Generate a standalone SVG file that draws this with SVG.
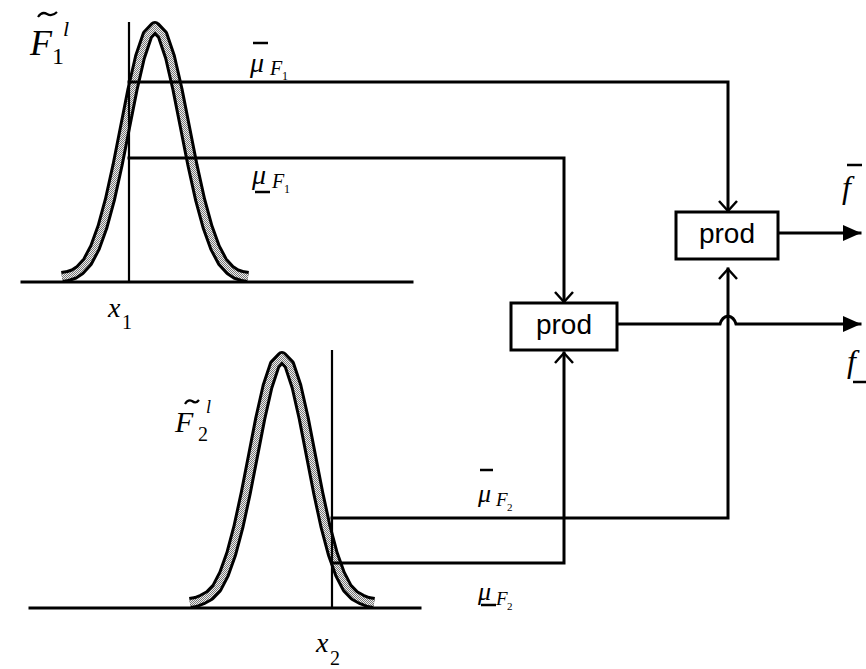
<svg xmlns="http://www.w3.org/2000/svg" width="866" height="669" viewBox="0 0 866 669">
<style>
.ln{fill:none;stroke:#000;stroke-width:3;stroke-linecap:square}
.thin{fill:none;stroke:#000;stroke-width:2.2}
.outer{fill:none;stroke:#000;stroke-width:12;stroke-linejoin:round;stroke-linecap:butt}
.inner{fill:none;stroke:url(#dots);stroke-width:6;stroke-linejoin:round;stroke-linecap:butt}
.box{fill:#fff;stroke:#000;stroke-width:3}
.prod{font-family:"Liberation Sans",Arial,sans-serif;font-size:28px;text-anchor:middle}
.m{font-family:"Liberation Serif","Times New Roman",serif;font-style:italic}
.r{font-family:"Liberation Serif","Times New Roman",serif}
.chev{fill:none;stroke:#000;stroke-width:2.5}
.bar{stroke:#000;stroke-width:2.5}
.tl{fill:none;stroke:#000;stroke-width:2.2}
</style>
<defs>
<pattern id="dots" width="2" height="2" patternUnits="userSpaceOnUse">
<rect width="2" height="2" fill="#eee"/>
<rect width="1" height="1" fill="#777"/>
<rect x="1" y="1" width="1" height="1" fill="#777"/>
</pattern>
<marker id="tri" markerWidth="18" markerHeight="16" refX="17" refY="8" orient="auto" markerUnits="userSpaceOnUse">
<path d="M0,0 L18,8 L0,16 Z" fill="#000"/>
</marker>
</defs>

<g id="curve1">
<polyline class="outer" points="62,277 68,276 74,274 80,270 87.5,261.7 95,247.5 102.5,226.8 110,199.2 117.5,165.3 125,127.3 132.5,89.5 140,57 147.5,34.9 155,27 162.5,34.9 170,57 177.5,89.5 185,127.3 192.5,165.3 200,199.2 207.5,226.8 215,247.5 222.5,261.7 230,270 236,274 242,276 248,277"/>
<polyline class="inner" points="62,277 68,276 74,274 80,270 87.5,261.7 95,247.5 102.5,226.8 110,199.2 117.5,165.3 125,127.3 132.5,89.5 140,57 147.5,34.9 155,27 162.5,34.9 170,57 177.5,89.5 185,127.3 192.5,165.3 200,199.2 207.5,226.8 215,247.5 222.5,261.7 230,270 236,274 242,276 248,277"/>
<line class="ln" x1="22" y1="282" x2="412" y2="282"/>
<line class="thin" x1="129" y1="22" x2="129" y2="282"/>
</g>

<g id="curve2">
<polyline class="outer" points="190,603 196,602 202.25,599.5 209.5,595.5 216.75,588 224,574 231.25,553.7 238.5,526.5 245.75,493.1 253,455.8 260.25,418.5 267.5,386.5 274.75,364.7 282,357 289.25,364.7 296.5,386.5 303.75,418.5 311,455.8 318.25,493.1 325.5,526.5 332.75,553.7 340,574 347.25,588 354.5,595.5 361.75,599.5 368,602 374,603"/>
<polyline class="inner" points="190,603 196,602 202.25,599.5 209.5,595.5 216.75,588 224,574 231.25,553.7 238.5,526.5 245.75,493.1 253,455.8 260.25,418.5 267.5,386.5 274.75,364.7 282,357 289.25,364.7 296.5,386.5 303.75,418.5 311,455.8 318.25,493.1 325.5,526.5 332.75,553.7 340,574 347.25,588 354.5,595.5 361.75,599.5 368,602 374,603"/>
<line class="ln" x1="30" y1="608" x2="420" y2="608"/>
<line class="thin" x1="332" y1="350" x2="332" y2="608"/>
</g>

<g id="connectors">
<polyline class="ln" points="129,82 728,82 728,211"/>
<polyline class="chev" points="719,201 728,211 737,201"/>
<polyline class="ln" points="129,158 564,158 564,302"/>
<polyline class="chev" points="555,292 564,302 573,292"/>
<polyline class="ln" points="332,518 728,518 728,269"/>
<polyline class="chev" points="719,279 728,269 737,279"/>
<polyline class="ln" points="332,563 564,563 564,353"/>
<polyline class="chev" points="555,363 564,353 573,363"/>
<path class="ln" d="M778,233 L860,233" marker-end="url(#tri)"/>
<path class="ln" d="M617,324 L720,324 Q722,317 728,316 Q734,317 736,324 L860,324" marker-end="url(#tri)"/>
</g>

<g id="prod-top">
<rect class="box" x="676" y="212" width="102" height="47"/>
<text class="prod" x="727" y="243">prod</text>
</g>
<g id="prod-bottom">
<rect class="box" x="511" y="303" width="106" height="47"/>
<text class="prod" x="564" y="334">prod</text>
</g>

<g id="labels">
<path class="tl" d="M38,17 Q42,11 47,14 Q52,17 57,12"/>
<text class="m" x="30" y="55" font-size="36">F</text>
<text class="r" x="52" y="64" font-size="24">1</text>
<text class="m" x="63" y="36" font-size="22">l</text>

<line class="bar" x1="253" y1="43" x2="268" y2="43"/>
<text class="m" x="250" y="72" font-size="28">μ</text>
<text class="m" x="270" y="75" font-size="20">F</text>
<text class="r" x="282" y="80" font-size="12">1</text>

<text class="m" x="252" y="184" font-size="28">μ</text>
<text class="m" x="272" y="188" font-size="20">F</text>
<text class="r" x="284" y="193" font-size="12">1</text>
<line class="bar" x1="255" y1="192" x2="270" y2="192"/>

<text class="m" x="108" y="317" font-size="28">x</text>
<text class="r" x="122" y="329" font-size="20">1</text>

<path class="tl" d="M185,404 Q188,399 192,401 Q196,404 199,400"/>
<text class="m" x="175" y="432" font-size="30">F</text>
<text class="r" x="198" y="441" font-size="20">2</text>
<text class="m" x="206" y="413" font-size="18">l</text>

<line class="bar" x1="480" y1="470" x2="493" y2="470"/>
<text class="m" x="478" y="502" font-size="26">μ</text>
<text class="m" x="496" y="506" font-size="19">F</text>
<text class="r" x="507" y="511" font-size="11">2</text>

<text class="m" x="478" y="600" font-size="26">μ</text>
<text class="m" x="496" y="605" font-size="19">F</text>
<text class="r" x="507" y="610" font-size="11">2</text>
<line class="bar" x1="481" y1="605" x2="496" y2="605"/>

<text class="m" x="316" y="652" font-size="28">x</text>
<text class="r" x="330" y="665" font-size="20">2</text>

<line class="bar" x1="847" y1="165" x2="862" y2="165"/>
<text class="m" x="842" y="198" font-size="32">f</text>

<text class="m" x="847" y="372" font-size="32">f</text>
<line class="bar" x1="853" y1="382" x2="866" y2="382"/>
</g>
</svg>
